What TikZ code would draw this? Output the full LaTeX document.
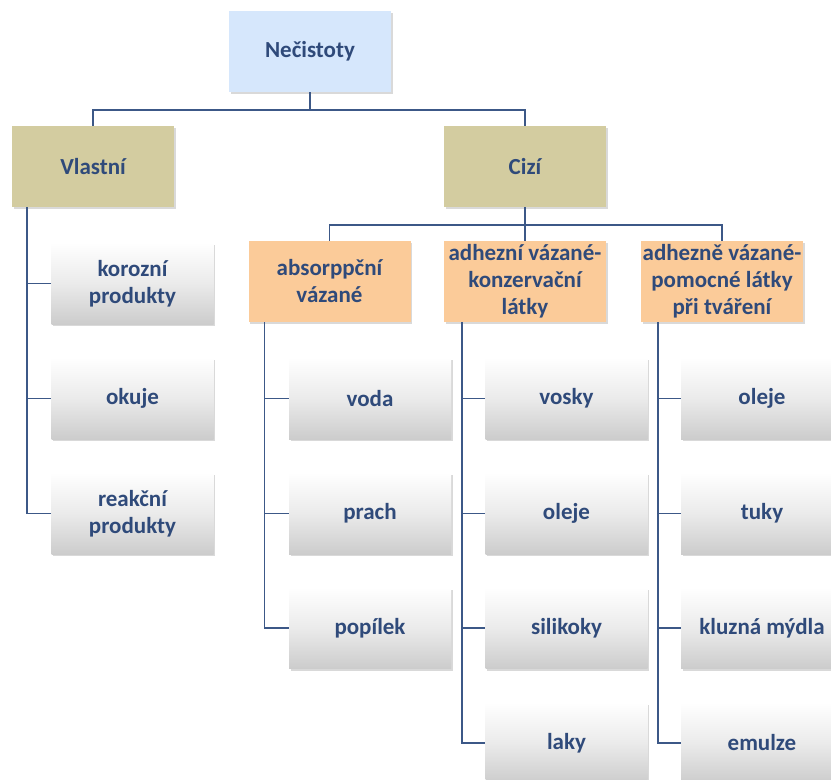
\documentclass[tikz,border=0pt]{standalone}
\usepackage{fontspec}
\setmainfont{Carlito}
\usetikzlibrary{shadows}
\definecolor{txt}{RGB}{47,74,122}
\definecolor{lin}{RGB}{60,88,135}
\definecolor{topc}{RGB}{214,231,252}
\definecolor{khaki}{RGB}{211,204,160}
\definecolor{peach}{RGB}{251,203,153}
\tikzset{
  box/.style={minimum width=162pt, minimum height=81pt, inner sep=0pt, align=center,
    font=\fontsize{23}{27}\selectfont\bfseries, text=txt,
    drop shadow={shadow xshift=1.5pt, shadow yshift=-2pt, opacity=0.25, fill=black!60}},
  topbox/.style={box, fill=topc},
  midbox/.style={box, fill=khaki},
  catbox/.style={box, fill=peach},
  leafbox/.style={box, top color=white, bottom color=black!20, middle color=white!92!black},
  conn/.style={draw=lin, line width=1.6pt}
}
\begin{document}
\begin{tikzpicture}[x=1pt,y=-1pt]
\useasboundingbox (0,0) rectangle (831,780);
\clip (0,0) rectangle (831,780);
\node[topbox] (top) at (310,51.5) {Nečistoty};
\node[midbox] (vl) at (93,166.5) {Vlastní};
\node[midbox] (ci) at (525,166.5) {Cizí};
\node[catbox] (ab) at (329.5,281.5) {absorppční\\vázané};
\node[catbox] (ad) at (525,281.5) {adhezní vázané-\\konzervační\\látky};
\node[catbox] (pm) at (722,281.5) {adhezně vázané-\\pomocné látky\\při tváření};
% left children
\node[leafbox] (kor) at (132.5,283.5) {korozní\\produkty};
\node[leafbox] (oku) at (132.5,398.5) {okuje};
\node[leafbox] (rea) at (132.5,513.5) {reakční\\produkty};
% absorpcni children
\node[leafbox] (vod) at (370,398.5) {voda};
\node[leafbox] (pra) at (370,513.5) {prach};
\node[leafbox] (pop) at (370,628) {popílek};
% adhezni children
\node[leafbox] (vos) at (566.5,398.5) {vosky};
\node[leafbox] (ol1) at (566.5,513.5) {oleje};
\node[leafbox] (sil) at (566.5,628) {silikoky};
\node[leafbox] (lak) at (566.5,743) {laky};
% pomocne children
\node[leafbox] (ol2) at (762,398.5) {oleje};
\node[leafbox] (tuk) at (762,513.5) {tuky};
\node[leafbox] (klu) at (762,628) {kluzná mýdla};
\node[leafbox] (emu) at (762,743) {emulze};
% connectors
\draw[conn] (top.south) -- ++(0,17.5) -| (vl.north);
\draw[conn] (top.south) -- ++(0,17.5) -| (ci.north);
\draw[conn] (ci.south) -- ++(0,18) -| (ab.north);
\draw[conn] (ci.south) -- (ad.north);
\draw[conn] (ci.south) -- ++(0,18) -| (pm.north);
\foreach \c in {kor,oku,rea} \draw[conn] ([xshift=15pt]vl.south west) |- (\c.west);
\foreach \c in {vod,pra,pop} \draw[conn] ([xshift=16pt]ab.south west) |- (\c.west);
\foreach \c in {vos,ol1,sil,lak} \draw[conn] ([xshift=18pt]ad.south west) |- (\c.west);
\foreach \c in {ol2,tuk,klu,emu} \draw[conn] ([xshift=17pt]pm.south west) |- (\c.west);
\end{tikzpicture}
\end{document}
